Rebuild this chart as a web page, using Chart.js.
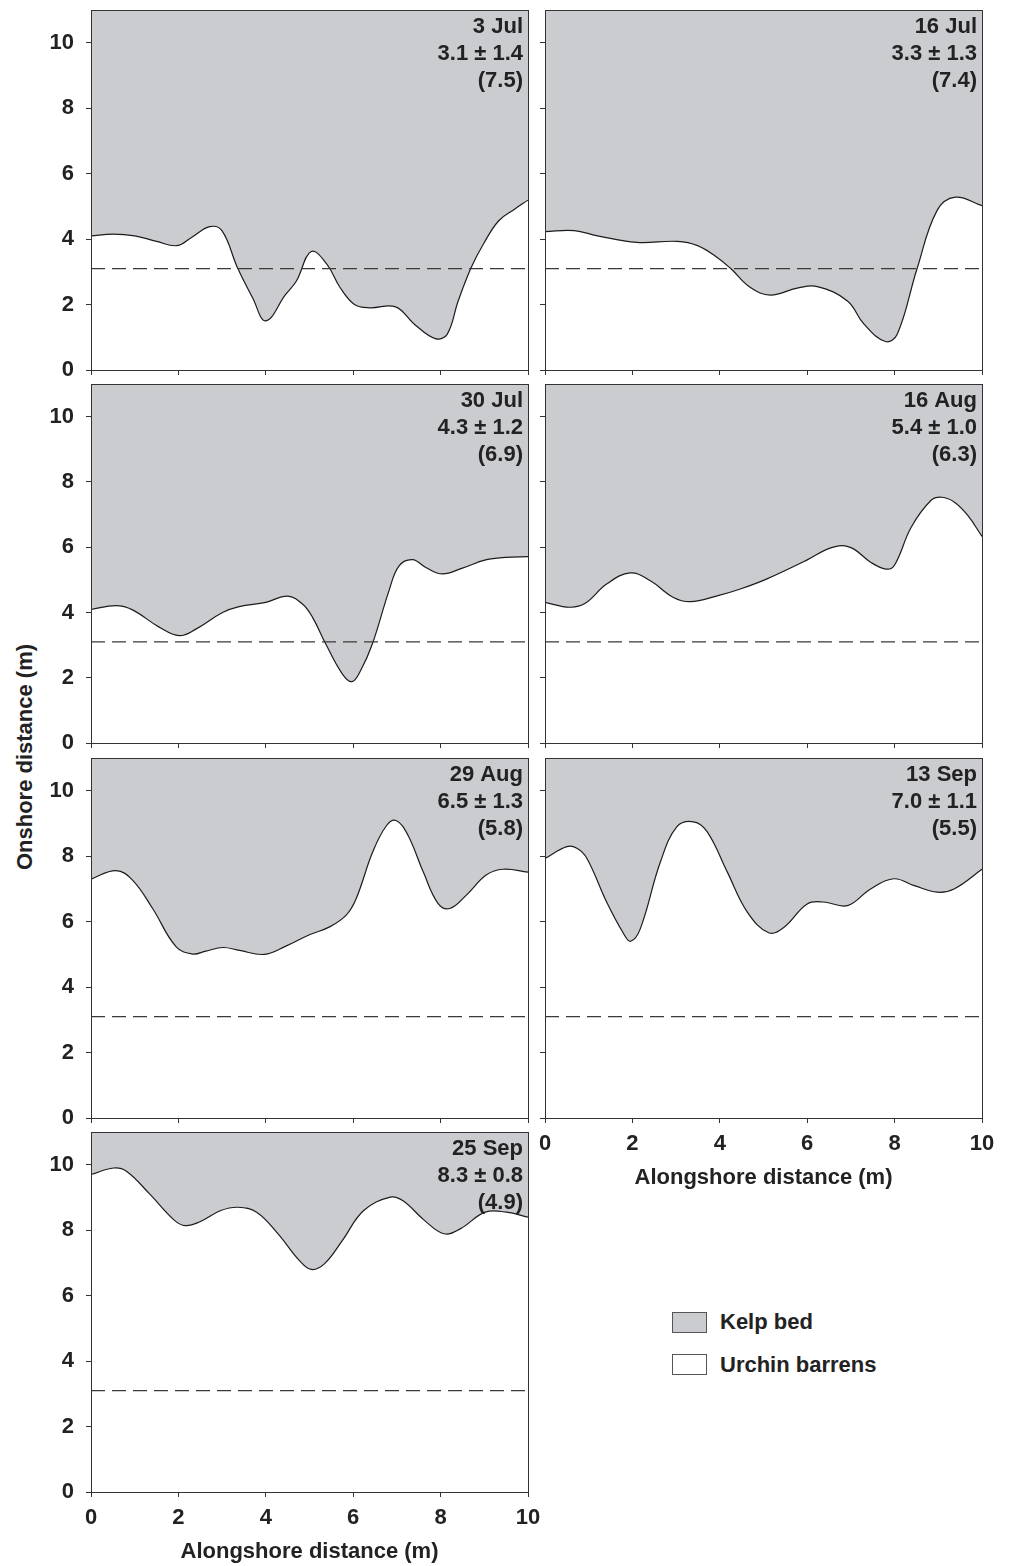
<!DOCTYPE html>
<html><head><meta charset="utf-8">
<script src="https://cdn.jsdelivr.net/npm/chart.js@4.4.0/dist/chart.umd.min.js"></script>
<style>
html,body{margin:0;padding:0;background:#fff;width:1013px;height:1566px;overflow:hidden;font-family:"Liberation Sans",Arial,sans-serif;color:#222}
canvas{position:absolute}
#ytitle{position:absolute;left:25px;top:757px;transform:translate(-50%,-50%) rotate(-90deg);font-weight:bold;font-size:22px;white-space:nowrap}
.legbox{position:absolute;width:33px;height:19px;border:1px solid #555;box-sizing:content-box}
.legtxt{position:absolute;font-weight:bold;font-size:22px;line-height:22px;white-space:nowrap}
</style></head><body>
<div id="ytitle">Onshore distance (m)</div>
<div class="legbox" style="left:672px;top:1312px;background:#cbcccf"></div>
<div class="legtxt" style="left:720px;top:1311px">Kelp bed</div>
<div class="legbox" style="left:672px;top:1354px;background:#fff"></div>
<div class="legtxt" style="left:720px;top:1354px">Urchin barrens</div>
<script>
// ---- data ----
const xTicks = [0, 2, 4, 6, 8, 10];
const yTicks = [0, 2, 4, 6, 8, 10];
const baselineX = [0, 10];
const baselineY = [3.1, 3.1];

const dates = ['3 Jul', '16 Jul', '30 Jul', '16 Aug', '29 Aug', '13 Sep', '25 Sep'];
const meanSd = ['3.1 \u00b1 1.4', '3.3 \u00b1 1.3', '4.3 \u00b1 1.2', '5.4 \u00b1 1.0', '6.5 \u00b1 1.3', '7.0 \u00b1 1.1', '8.3 \u00b1 0.8'];
const bracketVals = ['(7.5)', '(7.4)', '(6.9)', '(6.3)', '(5.8)', '(5.5)', '(4.9)'];

const jul03X = [0, 0.5, 1.0, 1.5, 1.97, 2.3, 2.72, 3.0, 3.35, 3.7, 4.0, 4.45, 4.7, 5.04, 5.4, 5.7, 6.03, 6.38, 6.97, 7.4, 7.88, 8.15, 8.4, 8.7, 8.98, 9.33, 9.7, 10];
const jul03Y = [4.1, 4.15, 4.1, 3.93, 3.8, 4.05, 4.38, 4.25, 3.13, 2.2, 1.5, 2.3, 2.72, 3.62, 3.23, 2.52, 2.0, 1.9, 1.93, 1.4, 0.96, 1.09, 2.1, 3.13, 3.85, 4.56, 4.92, 5.19];

const jul16X = [0, 0.67, 1.2, 2.1, 3.03, 3.49, 3.94, 4.25, 4.7, 5.16, 5.77, 6.23, 6.92, 7.3, 7.79, 8.06, 8.51, 8.97, 9.39, 10];
const jul16Y = [4.23, 4.26, 4.1, 3.9, 3.93, 3.8, 3.44, 3.1, 2.52, 2.29, 2.5, 2.55, 2.11, 1.4, 0.87, 1.09, 3.08, 4.87, 5.28, 5.02];

const jul30X = [0, 0.57, 0.95, 1.56, 2.02, 2.4, 3.01, 3.39, 4.0, 4.5, 4.84, 5.07, 5.37, 5.75, 5.97, 6.17, 6.44, 6.82, 7.05, 7.36, 7.66, 8.04, 8.5, 9.03, 9.49, 10];
const jul30Y = [4.09, 4.21, 4.08, 3.55, 3.29, 3.49, 4.0, 4.18, 4.31, 4.5, 4.26, 3.85, 3.04, 2.12, 1.88, 2.22, 3.04, 4.67, 5.43, 5.62, 5.38, 5.18, 5.36, 5.61, 5.69, 5.71];

const aug16X = [0, 0.57, 0.92, 1.41, 1.95, 2.41, 2.94, 3.33, 3.94, 4.47, 5.08, 6.0, 6.46, 6.8, 7.07, 7.45, 7.8, 7.99, 8.38, 8.83, 9.08, 9.37, 9.67, 10];
const aug16Y = [4.31, 4.16, 4.28, 4.87, 5.21, 4.97, 4.46, 4.33, 4.51, 4.72, 5.03, 5.61, 5.94, 6.05, 5.94, 5.54, 5.33, 5.43, 6.61, 7.43, 7.53, 7.38, 6.98, 6.33];

const aug29X = [0, 0.57, 0.95, 1.41, 1.95, 2.33, 2.63, 3.02, 3.4, 3.97, 4.47, 5.0, 5.46, 5.84, 6.07, 6.45, 6.76, 6.98, 7.25, 7.6, 7.94, 8.21, 8.59, 9.05, 9.43, 10];
const aug29Y = [7.3, 7.56, 7.27, 6.4, 5.23, 5.01, 5.1, 5.21, 5.12, 5.0, 5.26, 5.6, 5.84, 6.2, 6.71, 8.14, 8.93, 9.09, 8.65, 7.53, 6.56, 6.4, 6.81, 7.43, 7.6, 7.51];

const sep13X = [0, 0.5, 0.73, 0.96, 1.41, 1.8, 1.96, 2.18, 2.64, 3.02, 3.4, 3.71, 4.17, 4.63, 5.12, 5.47, 6.0, 6.38, 6.92, 7.45, 7.98, 8.45, 8.98, 9.36, 10];
const sep13Y = [7.93, 8.29, 8.24, 7.93, 6.6, 5.63, 5.4, 5.78, 7.82, 8.9, 9.05, 8.75, 7.52, 6.29, 5.66, 5.83, 6.54, 6.6, 6.49, 7.0, 7.31, 7.1, 6.9, 7.0, 7.6];

const sep25X = [0, 0.52, 0.81, 1.34, 1.91, 2.16, 2.48, 2.97, 3.37, 3.79, 4.28, 4.77, 5.04, 5.34, 5.75, 6.24, 6.85, 7.14, 7.63, 8.08, 8.45, 9.02, 9.51, 10];
const sep25Y = [9.7, 9.9, 9.8, 9.11, 8.3, 8.14, 8.25, 8.6, 8.7, 8.55, 7.89, 7.07, 6.8, 6.97, 7.68, 8.6, 9.01, 8.9, 8.3, 7.89, 8.04, 8.55, 8.55, 8.4];

const seriesX = [jul03X, jul16X, jul30X, aug16X, aug29X, sep13X, sep25X];
const seriesY = [jul03Y, jul16Y, jul30Y, aug16Y, aug29Y, sep13Y, sep25Y];

// ---- layout / style ----
const FONT = '"Liberation Sans", Arial, sans-serif';
const KELP = '#cbcccf';
const AXIS = '#333';
const TXT = '#222';
const panelCol = [0, 1, 0, 1, 0, 1, 0];
const plotTop = [10, 10, 384, 384, 758, 758, 1132];
const plotBottom = [370, 370, 743, 743, 1118, 1118, 1492];
const showXLabels = [false, false, false, false, false, true, true];

const framePlugin = {
  id: 'frame',
  afterDatasetsDraw(chart) {
    const a = chart.chartArea, ctx = chart.ctx;
    ctx.save();
    ctx.strokeStyle = AXIS; ctx.lineWidth = 1;
    ctx.strokeRect(Math.round(a.left) + 0.5, Math.round(a.top) + 0.5, Math.round(a.right - a.left), Math.round(a.bottom - a.top));
    ctx.restore();
  },
  afterDraw(chart, args, opts) {
    const a = chart.chartArea, ctx = chart.ctx;
    ctx.save();
    ctx.fillStyle = TXT;
    ctx.font = 'bold 22px ' + FONT;
    ctx.textAlign = 'right';
    ctx.textBaseline = 'middle';
    (opts.lines || []).forEach((t, i) => ctx.fillText(t, a.right - 5, a.top + 17 + i * 27));
    ctx.restore();
  }
};

function buildPanel(k) {
  const col = panelCol[k];
  const padTop = 30;
  const xl = showXLabels[k];
  const xAxisH = xl ? 74 : 10;
  const padBottom = xl ? 0 : 16;
  const padLeft = col === 0 ? 0 : 10;
  const yAxisW = col === 0 ? 91 : 10;
  const padRight = 26;
  const plotLeft = col === 0 ? 91 : 545;
  const plotRight = col === 0 ? 528 : 982;
  const cLeft = plotLeft - yAxisW - padLeft;
  const cW = plotRight + padRight - cLeft;
  const cTop = plotTop[k] - padTop;
  const cH = padTop + (plotBottom[k] - plotTop[k]) + xAxisH + padBottom;

  const cv = document.createElement('canvas');
  cv.width = cW; cv.height = cH;
  cv.style.left = cLeft + 'px'; cv.style.top = cTop + 'px';
  cv.style.width = cW + 'px'; cv.style.height = cH + 'px';
  document.body.appendChild(cv);

  const tickFont = { family: FONT, size: 22, weight: 'bold' };
  const gridOpts = { drawOnChartArea: false, drawTicks: true, tickLength: 5, color: AXIS, lineWidth: 1 };

  new Chart(cv, {
    type: 'line',
    data: {
      datasets: [
        {
          label: 'reference',
          data: baselineX.map((x, i) => ({ x: x, y: baselineY[i] })),
          borderColor: '#3a3a3a', borderWidth: 1.2, borderDash: [14, 7],
          pointRadius: 0, fill: false
        },
        {
          label: 'kelp edge',
          data: seriesX[k].map((x, i) => ({ x: x, y: seriesY[k][i] })),
          borderColor: '#1c1c1c', borderWidth: 1.2, pointRadius: 0,
          tension: 0.4,
          fill: 'end', backgroundColor: KELP
        }
      ]
    },
    options: {
      responsive: false, animation: false, devicePixelRatio: 1,
      layout: { padding: { top: padTop, bottom: padBottom, left: padLeft, right: padRight } },
      plugins: {
        legend: { display: false }, tooltip: { enabled: false },
        frame: { lines: [dates[k], meanSd[k], bracketVals[k]] }
      },
      scales: {
        x: {
          type: 'linear', min: 0, max: 10,
          afterBuildTicks: s => { s.ticks = xTicks.map(v => ({ value: v })); },
          afterFit: s => { s.height = xAxisH; },
          grid: gridOpts,
          border: { display: true, color: AXIS, width: 1 },
          ticks: { display: xl, padding: 8, color: TXT, font: tickFont, maxRotation: 0, autoSkip: false },
          title: { display: xl, text: 'Alongshore distance (m)', color: TXT, font: tickFont, padding: { top: 0, bottom: 1 } }
        },
        y: {
          type: 'linear', min: 0, max: 11,
          afterBuildTicks: s => { s.ticks = yTicks.map(v => ({ value: v })); },
          afterFit: s => { s.width = yAxisW; },
          grid: gridOpts,
          border: { display: true, color: AXIS, width: 1 },
          ticks: { display: col === 0, padding: 12, color: TXT, font: tickFont }
        }
      }
    },
    plugins: [framePlugin]
  });
}

for (let k = 0; k < 7; k++) buildPanel(k);
</script>
</body></html>
